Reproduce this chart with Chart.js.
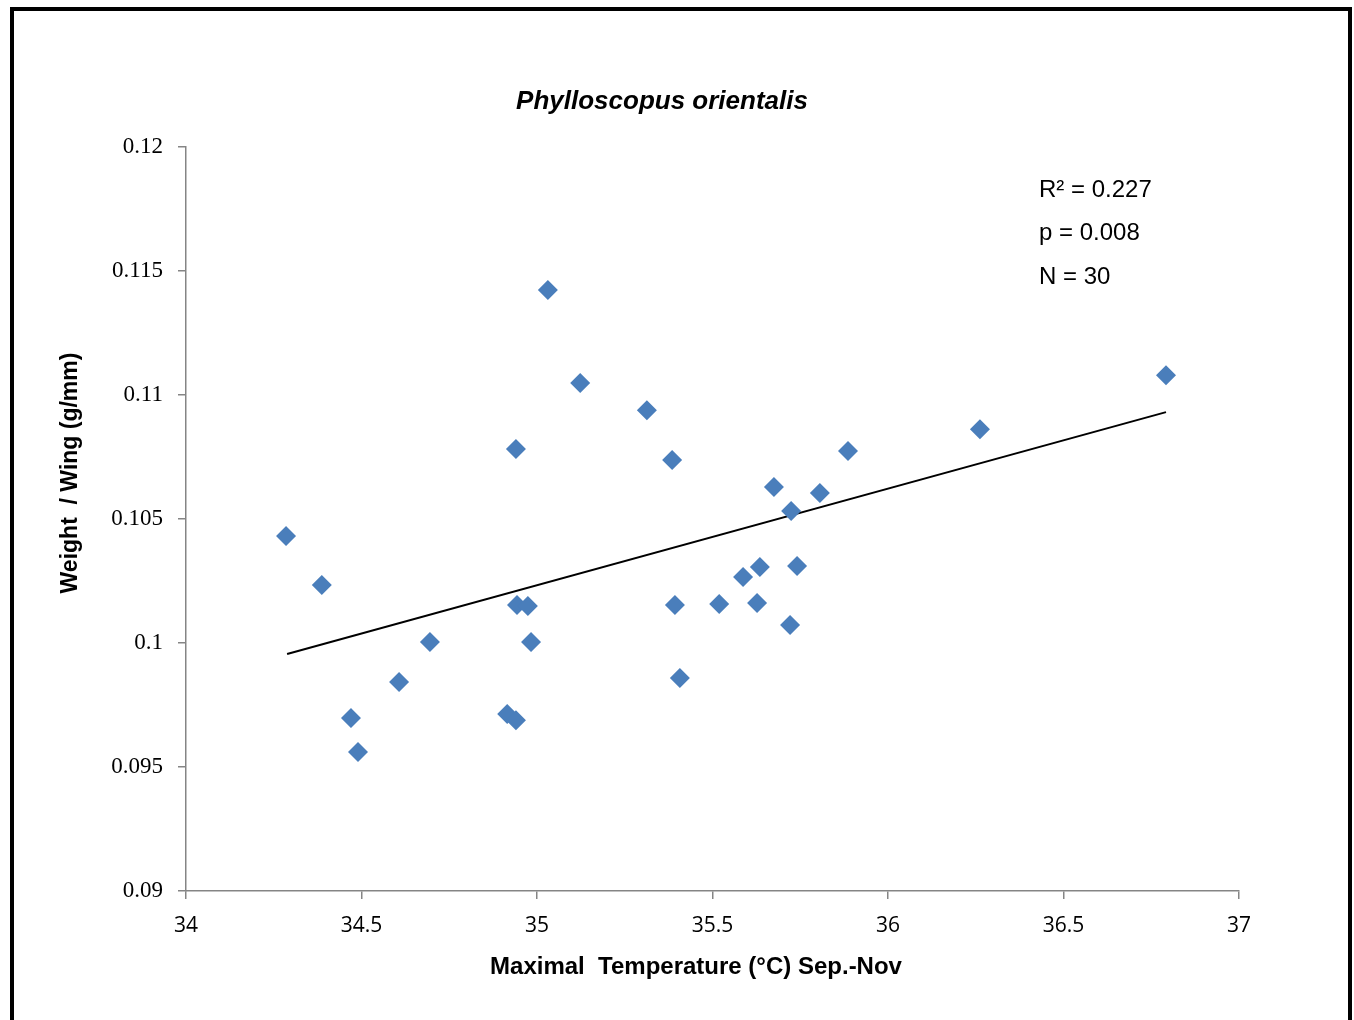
<!DOCTYPE html>
<html><head><meta charset="utf-8">
<script src="https://cdn.jsdelivr.net/npm/chart.js@4/dist/chart.umd.min.js"></script>
<style>html,body{margin:0;padding:0;background:#fff;}#wrap{width:1354px;height:1020px;position:relative;}</style>
</head><body><div id="wrap"><canvas id="c" width="1354" height="1020"></canvas></div>
<script>
const tempX = [34.285,34.387,34.470,34.490,34.607,34.695,34.915,34.940,34.940,34.943,34.974,34.983,35.031,35.123,35.313,35.385,35.393,35.407,35.519,35.587,35.627,35.635,35.675,35.721,35.724,35.741,35.806,35.886,36.262,36.792];
const ratioY = [0.10431,0.10234,0.09698,0.09560,0.09843,0.10004,0.09714,0.09689,0.10782,0.10153,0.10149,0.10004,0.11423,0.11048,0.10939,0.10738,0.10153,0.09859,0.10157,0.10266,0.10161,0.10306,0.10629,0.10073,0.10532,0.10310,0.10605,0.10774,0.10862,0.11080];
const trendX = [34.288, 36.792];
const trendY = [0.09956, 0.10931];
const xTicks = [34,34.5,35,35.5,36,36.5,37];
const yTicks = [0.09,0.095,0.1,0.105,0.11,0.115,0.12];
const yTickLabels = ['0.09','0.095','0.1','0.105','0.11','0.115','0.12'];
const xTickLabels = ['34','34.5','35','35.5','36','36.5','37'];
const titleText = 'Phylloscopus orientalis';
const xTitle = 'Maximal  Temperature (\u00b0C) Sep.-Nov';
const yTitle = 'Weight  / Wing (g/mm)';
const statsLines = ['R\u00b2 = 0.227','p = 0.008','N = 30'];

const pts = tempX.map((x,i)=>({x:x,y:ratioY[i]}));
const trend = trendX.map((x,i)=>({x:x,y:trendY[i]}));

const decor = {
  id:'decor',
  afterDraw(chart){
    const ctx = chart.ctx;
    ctx.save();
    ctx.strokeStyle = '#000';
    ctx.lineWidth = 4;
    ctx.strokeRect(12, 9, 1338, 1020);
    ctx.fillStyle = '#000';
    ctx.font = 'italic bold 26px "Liberation Sans", Arial, sans-serif';
    ctx.textAlign = 'center';
    ctx.textBaseline = 'middle';
    ctx.fillText(titleText, 662, 102);
    ctx.font = 'bold 24px "Liberation Sans", Arial, sans-serif';
    ctx.fillText(xTitle, 696, 967);
    ctx.save();
    ctx.translate(71, 473);
    ctx.rotate(-Math.PI/2);
    ctx.font = 'bold 23px "Liberation Sans", Arial, sans-serif';
    ctx.fillText(yTitle, 0, 0);
    ctx.restore();
    ctx.font = '24px "Liberation Sans", Arial, sans-serif';
    ctx.textAlign = 'left';
    const ys = [190, 233, 277];
    statsLines.forEach((s,i)=>ctx.fillText(s, 1039, ys[i]));
    ctx.restore();
  }
};

new Chart(document.getElementById('c'), {
  type:'scatter',
  data:{datasets:[
    {type:'line', data:trend, borderColor:'#000', borderWidth:2, pointRadius:0, fill:false, order:2},
    {data:pts, pointStyle:'rectRot', pointRadius:10, pointHoverRadius:10, backgroundColor:'#4a7ebb', borderColor:'#4a7ebb', borderWidth:0, order:1}
  ]},
  options:{
    responsive:false, animation:false, devicePixelRatio:1,
    layout:{padding:{left:0,top:147,right:115,bottom:0}},
    plugins:{legend:{display:false}, tooltip:{enabled:false}, title:{display:false}},
    scales:{
      x:{type:'linear', min:34, max:37,
        afterBuildTicks(s){ s.ticks = xTicks.map(v=>({value:v})); },
        afterFit(s){ s.height = 129; },
        grid:{drawOnChartArea:false, drawTicks:true, tickLength:8, color:'#858585', lineWidth:1.5},
        border:{color:'#858585', width:1.5},
        ticks:{color:'#000', padding:14, font:{family:'"Open Sans", "DejaVu Sans", sans-serif', size:21},
          callback:(v)=>{const i = xTicks.indexOf(v); return i>=0 ? xTickLabels[i] : '';}, maxRotation:0}
      },
      y:{type:'linear', min:0.09, max:0.12,
        afterBuildTicks(s){ s.ticks = yTicks.map(v=>({value:v})); },
        afterFit(s){ s.width = 186; },
        grid:{drawOnChartArea:false, drawTicks:true, tickLength:8, color:'#858585', lineWidth:1.5},
        border:{color:'#858585', width:1.5},
        ticks:{color:'#000', padding:15, font:{family:'"Liberation Serif", "Times New Roman", serif', size:23},
          callback:(v)=>{let i=-1; yTicks.forEach((t,k)=>{if(Math.abs(t-v)<1e-9)i=k;}); return i>=0 ? yTickLabels[i] : '';}}
      }
    }
  },
  plugins:[decor]
});
</script></body></html>
